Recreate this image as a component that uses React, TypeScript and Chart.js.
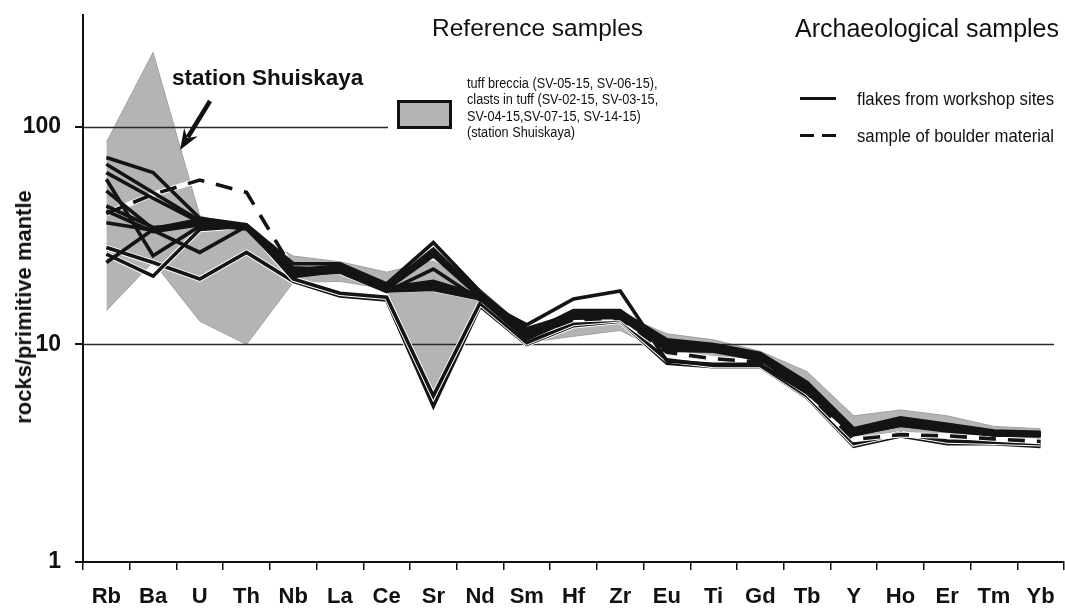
import React, { useEffect, useRef } from 'react';
import { Chart, registerables } from 'chart.js';

Chart.register(...registerables);

const elements = ['Rb', 'Ba', 'U', 'Th', 'Nb', 'La', 'Ce', 'Sr', 'Nd', 'Sm', 'Hf', 'Zr', 'Eu', 'Ti', 'Gd', 'Tb', 'Y', 'Ho', 'Er', 'Tm', 'Yb'];
const yTickValues = [1, 10, 100];

// Reference samples (station Shuiskaya) envelope
const refUpper = [85, 220, 39, 34, 25.5, 24, 21.5, 24.2, 18, 11.8, 13.5, 13.8, 11.2, 10.5, 9.3, 7.5, 4.7, 5.0, 4.7, 4.2, 4.1];
const refLower = [14.3, 24, 12.8, 10, 19.3, 19.5, 18, 6.1, 14.8, 10.2, 10.9, 11.6, 9.0, 8.4, 8.0, 6.0, 3.7, 4.0, 3.8, 3.75, 3.7];

// Archaeological samples: flakes from workshop sites
const flake1 = [72.3, 61.7, 38, 35.5, 23.5, 23.5, 19, 29.4, 17.5, 11.5, 14, 14.2, 10.5, 10, 9.1, 6.7, 4.1, 4.6, 4.3, 4.0, 3.95];
const flake2 = [67.4, 50, 37, 35, 22, 23, 18.5, 27.4, 17, 11.8, 13.8, 14, 10.2, 9.8, 8.9, 6.5, 4.0, 4.5, 4.2, 3.95, 3.9];
const flake3 = [61.7, 47, 36.5, 34.5, 21.5, 22.5, 18.3, 26.5, 16.8, 11.2, 14.3, 14.3, 9.9, 9.7, 8.8, 6.6, 3.95, 4.4, 4.15, 3.9, 3.85];
const flake4 = [57.5, 25.6, 35, 34.5, 22.5, 22, 18, 25.6, 16.5, 11, 13.5, 13.8, 9.7, 9.6, 8.7, 6.4, 3.9, 4.4, 4.1, 3.9, 3.85];
const flake5 = [50.8, 34, 37.5, 35, 21, 21.5, 17.5, 22.2, 16, 12.3, 16.2, 17.6, 8.4, 8.1, 8.1, 6.0, 3.85, 4.25, 4.0, 3.85, 3.8];
const flake6 = [43.3, 34.5, 36, 34.5, 22, 22.2, 17.8, 18.9, 16.5, 10.8, 13.5, 13.5, 9.6, 9.5, 8.6, 6.3, 3.9, 4.3, 4.1, 3.85, 3.85];
const flake7 = [41.1, 33, 35.5, 34, 20.5, 21.8, 17.6, 17.9, 16.2, 10.6, 13.2, 13.3, 9.4, 9.3, 8.5, 6.2, 3.85, 4.25, 4.05, 3.85, 3.85];
const flake8 = [27.9, 23.8, 20, 26.5, 19.5, 16.7, 16.0, 5.2, 15, 10, 12.2, 12.8, 8.2, 7.9, 7.9, 5.7, 3.4, 3.8, 3.5, 3.5, 3.4];
const flake9 = [26.0, 20.6, 33.8, 35, 20, 17.2, 16.5, 5.8, 15.5, 10.2, 12.5, 13, 8.5, 8.0, 8.0, 5.8, 3.5, 3.9, 3.6, 3.55, 3.5];
const flake10 = [23.8, 33.8, 36.5, 35, 21, 22.5, 18.2, 19.5, 16.8, 11, 13.3, 13.5, 9.8, 9.6, 8.8, 6.5, 3.95, 4.45, 4.2, 3.9, 3.9];
const flake11 = [36.3, 33.5, 26.5, 35, 22, 22, 17.9, 18.5, 16.3, 10.7, 13.4, 13.6, 9.5, 9.4, 8.6, 6.3, 3.9, 4.35, 4.1, 3.85, 3.85];

// Archaeological samples: sample of boulder material
const boulder = [40, 49, 57, 50, 22, 21.5, 17.8, 18, 16.3, 10.8, 13, 13.2, 9.2, 8.6, 8.3, 6.0, 3.66, 3.85, 3.8, 3.68, 3.58];

// drawing sequence of the flakes (first drawn = bottom)
const lowerFlakes = [flake8, flake9];
const upperFlakes = [flake5, flake7, flake6, flake11, flake10, flake4, flake3, flake2, flake1];

const FONT = '"Liberation Sans", Arial, sans-serif';

const decorPlugin = {
  id: 'decor',
  afterDatasetDraw(chart: any, args: any) {
    if (args.index !== 1) return;
    const { ctx, chartArea, scales } = chart;
    const y = scales.y;
    ctx.save();
    ctx.strokeStyle = '#2a2a2a';
    ctx.lineWidth = 1.5;
    const y100 = Math.round(y.getPixelForValue(100)) + 0.5;
    const y10 = Math.round(y.getPixelForValue(10)) + 0.5;
    ctx.beginPath();
    ctx.moveTo(chartArea.left, y100);
    ctx.lineTo(388, y100);
    ctx.moveTo(chartArea.left, y10);
    ctx.lineTo(chartArea.right - 10, y10);
    ctx.stroke();
    ctx.restore();
  },
  afterDraw(chart: any) {
    const { ctx } = chart;
    ctx.save();
    const x0 = 210, y0 = 101, tipX = 180, tipY = 150;
    const dx = tipX - x0, dy = tipY - y0;
    const len = Math.hypot(dx, dy);
    const ux = dx / len, uy = dy / len;
    const px = -uy, py = ux;
    const headLen = 18, halfW = 8;
    const bx = tipX - ux * headLen, by = tipY - uy * headLen;
    ctx.strokeStyle = '#111';
    ctx.lineWidth = 4.5;
    ctx.beginPath();
    ctx.moveTo(x0, y0);
    ctx.lineTo(bx + ux * 3, by + uy * 3);
    ctx.stroke();
    ctx.fillStyle = '#111';
    ctx.beginPath();
    ctx.moveTo(tipX, tipY);
    ctx.lineTo(bx + px * halfW - ux * 3, by + py * halfW - uy * 3);
    ctx.lineTo(bx + ux * 4, by + uy * 4);
    ctx.lineTo(bx - px * halfW - ux * 3, by - py * halfW - uy * 3);
    ctx.closePath();
    ctx.fill();
    ctx.restore();
  },
};

export default function App() {
  const canvasRef = useRef<HTMLCanvasElement | null>(null);

  useEffect(() => {
    const canvas = canvasRef.current;
    if (!canvas) return;

    const lineBase = {
      pointRadius: 0,
      pointHoverRadius: 0,
      tension: 0,
      fill: false,
      borderJoinStyle: 'miter' as const,
      borderCapStyle: 'butt' as const,
    };
    const LW = 3.6;
    const HW = 5.5;

    const datasets: any[] = [
      {
        ...lineBase,
        label: 'reference upper',
        data: refUpper,
        borderColor: '#a0a0a0',
        borderWidth: 1,
        backgroundColor: '#b4b4b4',
        fill: '+1',
        order: 1000,
      },
      {
        ...lineBase,
        label: 'reference lower',
        data: refLower,
        borderColor: '#a0a0a0',
        borderWidth: 1,
        order: 999,
      },
    ];

    let order = 900;
    const addLine = (label: string, d: number[], halo: boolean, dash?: number[]) => {
      if (halo) {
        datasets.push({ ...lineBase, label: label + ' halo', data: d, borderColor: '#ffffff', borderWidth: HW, order: order-- });
      }
      datasets.push({ ...lineBase, label, data: d, borderColor: '#141414', borderWidth: LW, borderDash: dash || [], order: order-- });
    };
    lowerFlakes.forEach((d, i) => addLine('flakes low ' + i, d, true));
    addLine('boulder', boulder, true, [17, 12]);
    upperFlakes.forEach((d, i) => addLine('flakes ' + i, d, false));

    const chart = new Chart(canvas, {
      type: 'line',
      data: { labels: elements, datasets },
      plugins: [decorPlugin],
      options: {
        animation: false,
        responsive: false,
        devicePixelRatio: 1,
        layout: { padding: { top: 15, right: 1, left: 0, bottom: 0 } },
        plugins: {
          legend: { display: false },
          tooltip: { enabled: false },
          title: { display: false },
        },
        scales: {
          x: {
            type: 'category',
            offset: true,
            grid: {
              offset: true,
              drawOnChartArea: false,
              drawTicks: true,
              tickLength: 8,
              color: '#111',
              lineWidth: 1.5,
            },
            border: { display: true, color: '#111', width: 2 },
            ticks: {
              color: '#111',
              font: { family: FONT, size: 22, weight: 'bold' },
              padding: 14,
              maxRotation: 0,
              autoSkip: false,
            },
            afterFit: (scale: any) => {
              scale.height = 50;
              scale.paddingLeft = 0;
              scale.paddingRight = 0;
            },
          },
          y: {
            type: 'logarithmic',
            min: 1,
            max: 327,
            grid: {
              drawOnChartArea: false,
              drawTicks: true,
              tickLength: 8,
              color: '#111',
              lineWidth: 2,
            },
            border: { display: true, color: '#111', width: 2 },
            ticks: {
              color: '#111',
              font: { family: FONT, size: 23, weight: 'bold' },
              padding: 14,
              callback: (v: any) => String(v),
            },
            afterBuildTicks: (scale: any) => {
              scale.ticks = yTickValues.map((v) => ({ value: v }));
            },
            afterFit: (scale: any) => {
              scale.width = 83;
              scale.paddingTop = 0;
              scale.paddingBottom = 0;
            },
          },
        },
      },
    });

    return () => {
      chart.destroy();
    };
  }, []);

  const abs = (extra: React.CSSProperties): React.CSSProperties => ({
    position: 'absolute',
    whiteSpace: 'nowrap',
    color: '#111',
    ...extra,
  });

  return (
    <div style={{ position: 'absolute', left: 0, top: 0, width: 1065, height: 612, background: '#fff', overflow: 'hidden' }}>
      <canvas ref={canvasRef} width={1065} height={612} style={{ position: 'absolute', left: 0, top: 0, width: 1065, height: 612 }} />

      <div style={abs({ left: 24, top: 307, transform: 'translate(-50%, -50%) rotate(-90deg)', font: `bold 22px ${FONT}` })}>
        rocks/primitive mantle
      </div>

      <div style={abs({ left: 172, top: 64, font: `bold 22.5px ${FONT}`, lineHeight: '28px' })}>station Shuiskaya</div>

      <div style={abs({ left: 432, top: 14, font: `24.5px ${FONT}`, lineHeight: '28px' })}>Reference samples</div>
      <div style={abs({ left: 795, top: 14, font: `25px ${FONT}`, lineHeight: '28px' })}>Archaeological samples</div>

      <div style={abs({ left: 397, top: 100, width: 49, height: 23, background: '#b4b4b4', border: '3px solid #111' })} />
      <div
        style={abs({
          left: 467,
          top: 75,
          font: `15.5px ${FONT}`,
          lineHeight: '16.3px',
          transform: 'scaleX(0.82)',
          transformOrigin: '0 0',
        })}
      >
        tuff breccia (SV-05-15, SV-06-15),
        <br />
        clasts in tuff (SV-02-15, SV-03-15,
        <br />
        SV-04-15,SV-07-15, SV-14-15)
        <br />
        (station Shuiskaya)
      </div>

      <div style={abs({ left: 800, top: 97, width: 36, height: 3, background: '#111' })} />
      <div style={abs({ left: 857, top: 88, font: `19px ${FONT}`, lineHeight: '22px', transform: 'scaleX(0.88)', transformOrigin: '0 0' })}>
        flakes from workshop sites
      </div>

      <div style={abs({ left: 800, top: 134, width: 14, height: 3, background: '#111' })} />
      <div style={abs({ left: 822, top: 134, width: 14, height: 3, background: '#111' })} />
      <div style={abs({ left: 857, top: 125, font: `19px ${FONT}`, lineHeight: '22px', transform: 'scaleX(0.88)', transformOrigin: '0 0' })}>
        sample of boulder material
      </div>
    </div>
  );
}
